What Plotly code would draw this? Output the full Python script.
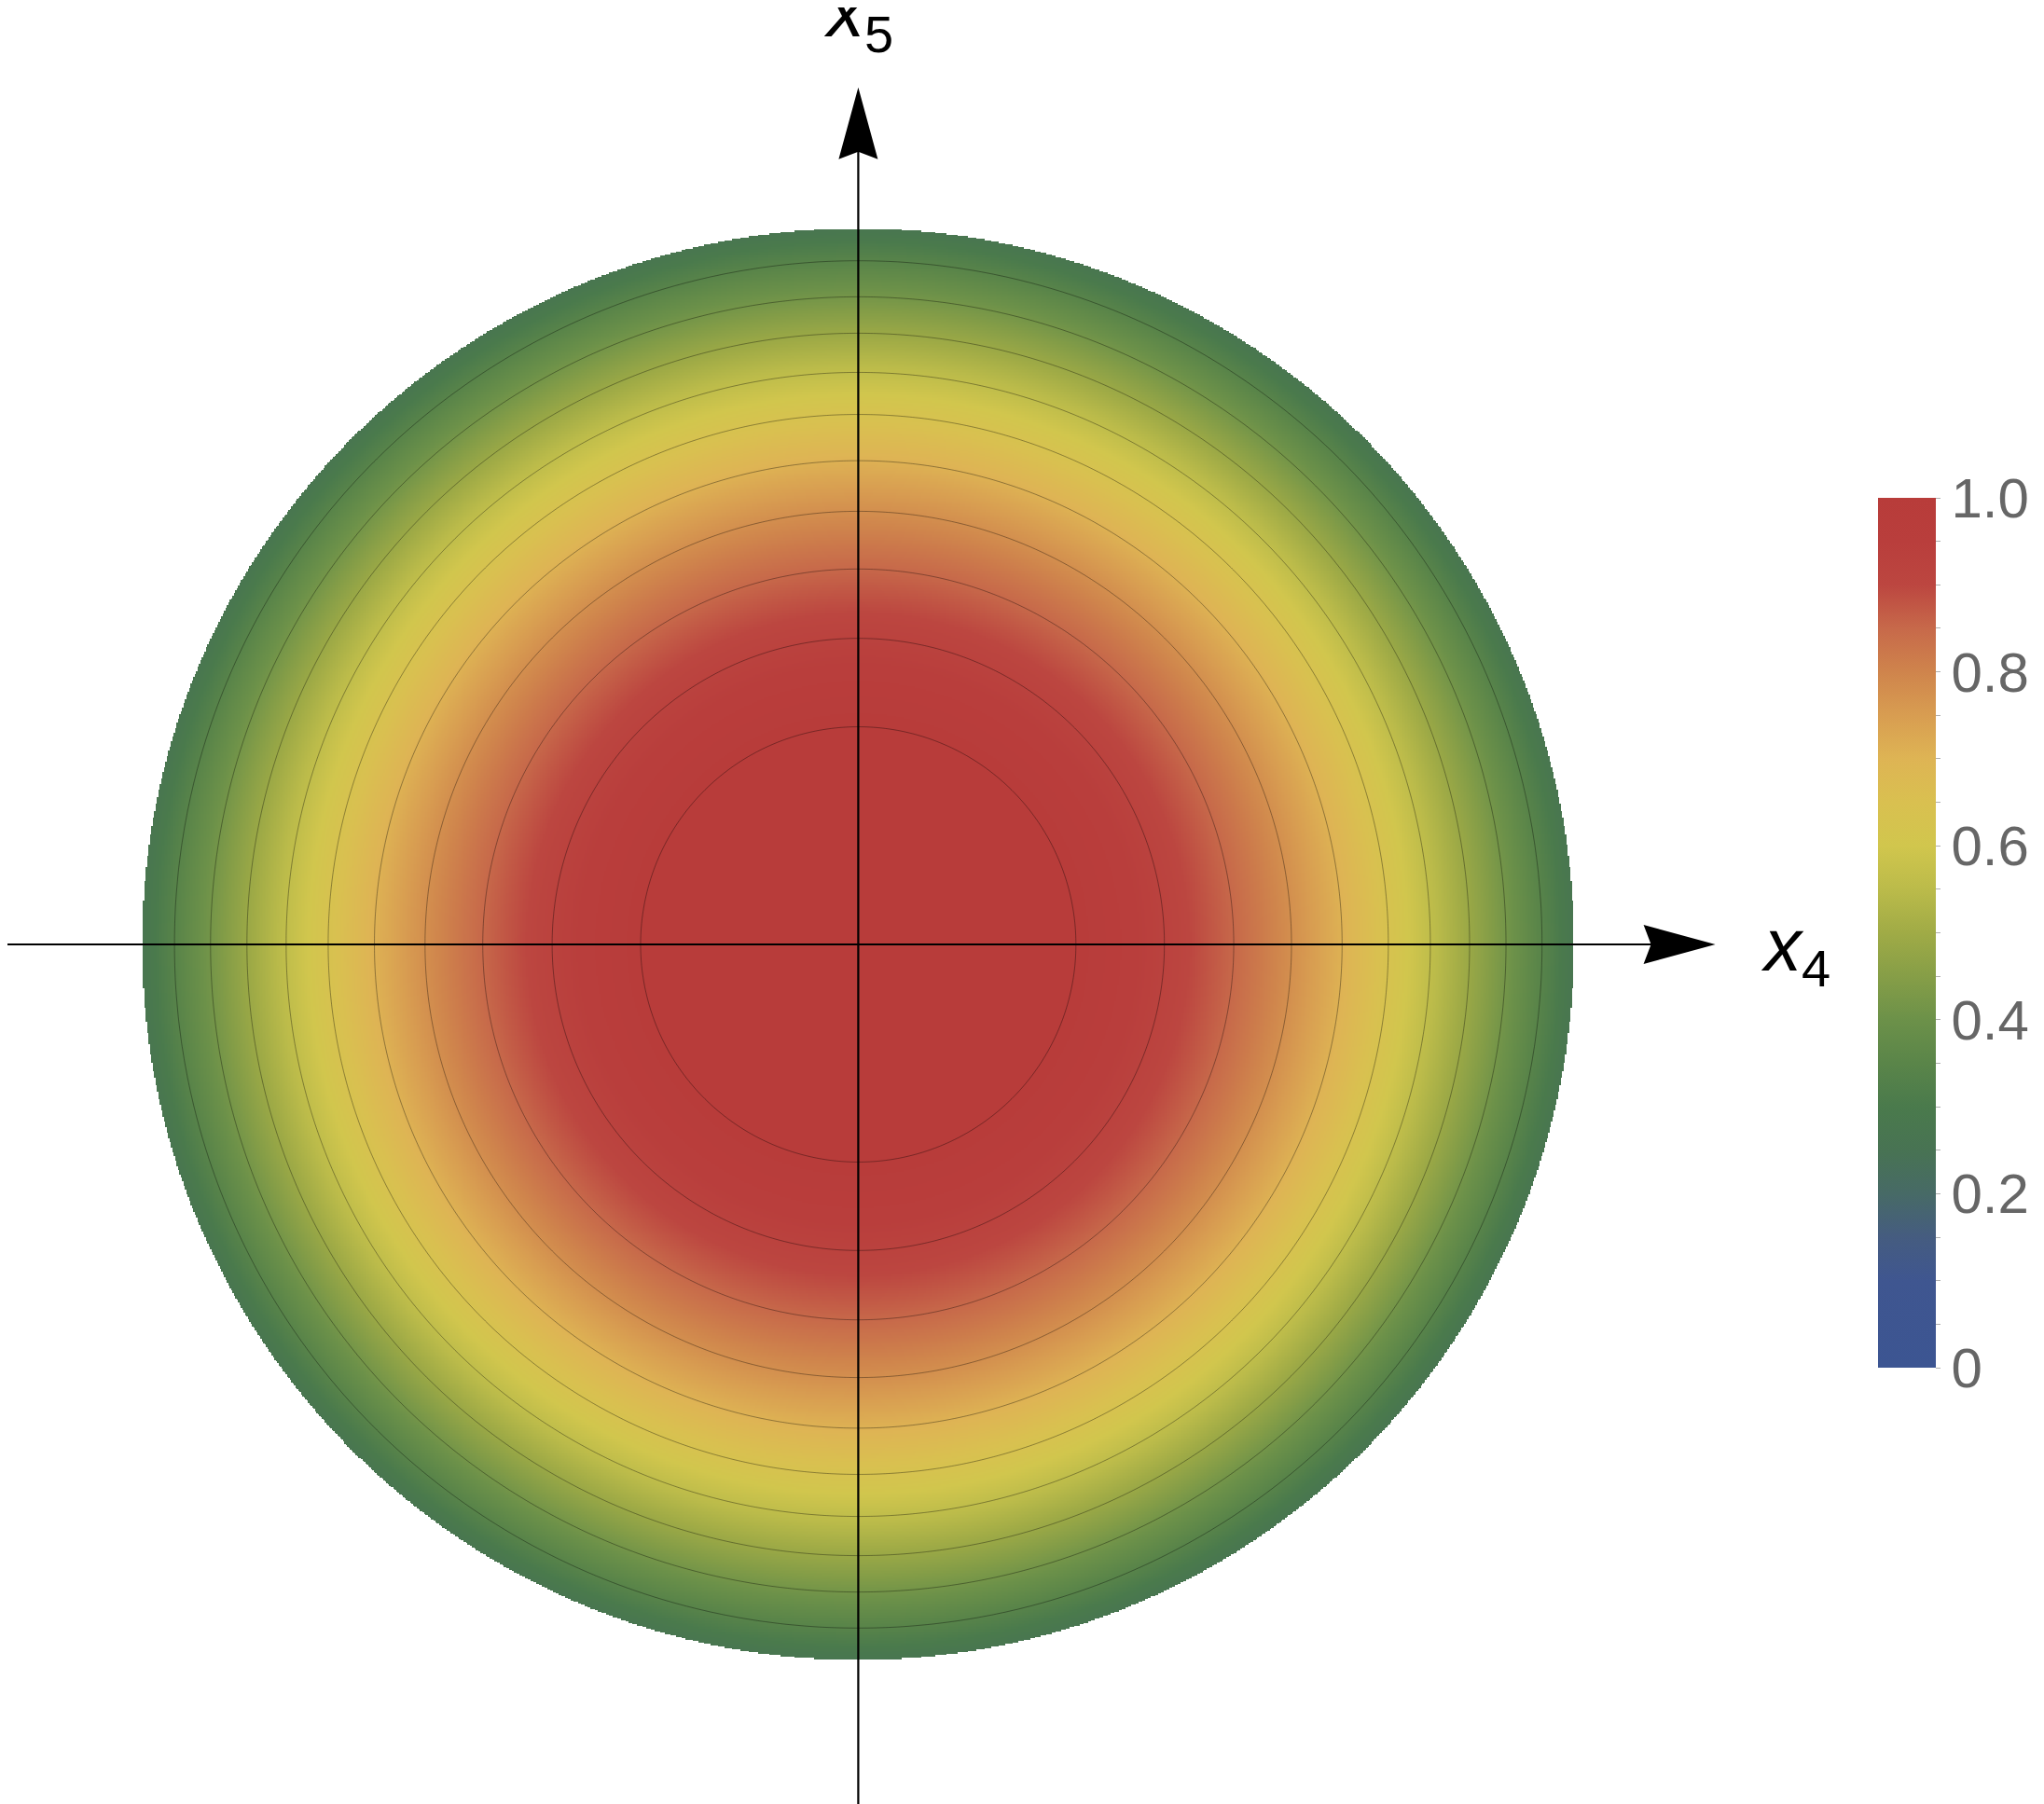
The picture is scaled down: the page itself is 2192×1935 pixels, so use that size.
import numpy as np
import plotly.graph_objects as go

# ---------------- data ----------------
# Disk radius is the unit of both axes (x4, x5).
rim_radius = 1.0
centre_value = 1.07          # value at the centre (above colour range -> saturated red)
rim_value = 0.27             # value at the rim of the disk
# radii (fraction of rim radius) of the drawn contour rings, read along the x4 axis
ring_radius = [0.304, 0.428, 0.524, 0.605, 0.676, 0.740, 0.799, 0.854, 0.905, 0.955]
# value of the field on each of those rings
ring_value = [0.997, 0.924, 0.852, 0.779, 0.706, 0.634, 0.561, 0.488, 0.415, 0.343]

colorbar_tickvals = [0.0, 0.2, 0.4, 0.6, 0.8, 1.0]
colorbar_ticktext = ["0", "0.2", "0.4", "0.6", "0.8", "1.0"]
colorbar_minor_step = 0.05

axis_label_x = "x"
axis_label_x_sub = "4"
axis_label_y = "x"
axis_label_y_sub = "5"

# ---------------- colour map (sampled from the colour bar) ----------------
colorscale = [
    [0.00, "#3c5592"], [0.10, "#3f5690"], [0.15, "#455c80"], [0.20, "#476a66"],
    [0.25, "#487353"], [0.30, "#4a7a4c"], [0.35, "#5a8549"], [0.40, "#6c9149"],
    [0.45, "#869e47"], [0.50, "#a0ab46"], [0.55, "#bbbb4a"], [0.60, "#d1c64d"],
    [0.65, "#d9c050"], [0.70, "#deb454"], [0.75, "#d89d51"], [0.80, "#cf844c"],
    [0.85, "#c7694a"], [0.90, "#bc4640"], [0.95, "#b93e3c"], [1.00, "#b83c3a"],
]

# ---------------- field on a grid (profile known along the radius) ----------------
prof_r2 = np.array([0.0] + [r * r for r in ring_radius] + [rim_radius ** 2])
prof_v = np.array([centre_value] + ring_value + [rim_value])

n_fill = 1025
g = np.linspace(-rim_radius, rim_radius, n_fill)
X, Y = np.meshgrid(g, g)
R2 = X ** 2 + Y ** 2
Z = np.interp(R2, prof_r2, prof_v).astype(np.float32)
Z[R2 > rim_radius ** 2] = np.nan

n_cont = 501
gc = np.linspace(-1.05 * rim_radius, 1.05 * rim_radius, n_cont)
XC, YC = np.meshgrid(gc, gc)
ZC = np.interp(XC ** 2 + YC ** 2, prof_r2, prof_v).astype(np.float32)

level_step = (max(ring_value) - min(ring_value)) / (len(ring_value) - 1)

# ---------------- page geometry ----------------
OFF = 8                       # default body margin of the html page
W, H = 2192 - OFF, 1935 - OFF
s = 767.9                     # pixels per data unit
cx, cy = 920.4 - OFF, 1013.0 - OFF   # pixel position of the origin inside the figure
x_range = [-cx / s, (W - cx) / s]
y_range = [-(H - cy) / s, cy / s]

cb_left = 2014.3 - OFF
cb_mid = 1000.5 - OFF

fig = go.Figure()
fig.add_trace(go.Heatmap(
    x=g, y=g, z=Z, zmin=0, zmax=1, colorscale=colorscale, zsmooth=False,
    hoverinfo="skip",
    colorbar=dict(
        x=cb_left / W, xanchor="left", xpad=0, ypad=0,
        y=1 - cb_mid / H, yanchor="middle",
        len=933, lenmode="pixels", thickness=62, thicknessmode="pixels",
        outlinewidth=0,
        tickmode="array",
        tickvals=[round(i * colorbar_minor_step, 2) for i in range(21)],
        ticktext=[colorbar_ticktext[colorbar_tickvals.index(round(i * colorbar_minor_step, 2))]
                  if round(i * colorbar_minor_step, 2) in colorbar_tickvals else ""
                  for i in range(21)],
        ticks="outside", ticklen=5, tickwidth=1, tickcolor="#b0b0b0",
        tickfont=dict(family="Liberation Sans, Arial, sans-serif", size=60, color="#666666"),
    ),
))
fig.add_trace(go.Contour(
    x=gc, y=gc, z=ZC, showscale=False, hoverinfo="skip",
    contours=dict(coloring="none", start=min(ring_value), end=1.0, size=level_step),
    line=dict(color="rgba(0,0,0,0.35)", width=1),
))

# ---------------- axes with arrows ----------------
tip = 1.197
L, HW, N = 77 / s, 21 / s, 8 / s

shapes = [
    dict(type="line", x0=x_range[0] - 0.1, y0=0, x1=tip - L * 0.5, y1=0,
         line=dict(color="black", width=2.2), layer="above"),
    dict(type="line", x0=0, y0=y_range[0] - 0.1, x1=0, y1=tip - L * 0.5,
         line=dict(color="black", width=2.2), layer="above"),
    dict(type="path", layer="above", fillcolor="black", line=dict(width=0),
         path=f"M{tip},0 L{tip - L},{HW} L{tip - L + N},0 L{tip - L},{-HW} Z"),
    dict(type="path", layer="above", fillcolor="black", line=dict(width=0),
         path=f"M0,{tip} L{HW},{tip - L} L0,{tip - L + N} L{-HW},{tip - L} Z"),
]

lab_font = dict(family="Liberation Sans, Arial, sans-serif", size=80, color="black")
annotations = [
    dict(x=(1886 - OFF - cx) / s, y=(cy - (1019 - OFF)) / s, xanchor="left", yanchor="middle",
         text=f"<i>{axis_label_x}</i><sub>{axis_label_x_sub}</sub>", showarrow=False, font=lab_font),
    dict(x=(881 - OFF - cx) / s, y=(cy - (17 - OFF)) / s, xanchor="left", yanchor="middle",
         text=f"<i>{axis_label_y}</i><sub>{axis_label_y_sub}</sub>", showarrow=False, font=lab_font),
]

fig.update_layout(
    width=W, height=H, margin=dict(l=0, r=0, t=0, b=0, pad=0),
    paper_bgcolor="white", plot_bgcolor="white", showlegend=False,
    xaxis=dict(visible=False, range=x_range, fixedrange=True),
    yaxis=dict(visible=False, range=y_range, fixedrange=True),
    shapes=shapes, annotations=annotations,
)
fig.write_html("out.html")
